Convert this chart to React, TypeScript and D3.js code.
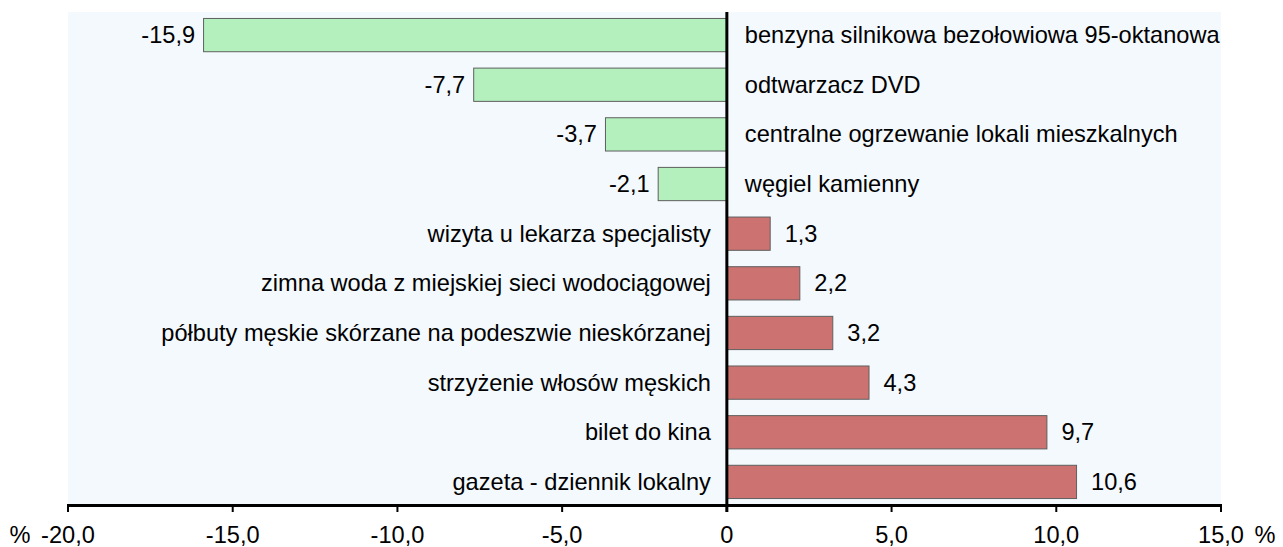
import React from "react";
import * as d3 from "d3";

const categories = [
  "benzyna silnikowa bezołowiowa 95-oktanowa",
  "odtwarzacz DVD",
  "centralne ogrzewanie lokali mieszkalnych",
  "węgiel kamienny",
  "wizyta u lekarza specjalisty",
  "zimna woda z miejskiej sieci wodociągowej",
  "półbuty męskie skórzane na podeszwie nieskórzanej",
  "strzyżenie włosów męskich",
  "bilet do kina",
  "gazeta - dziennik lokalny",
];
const values = [-15.9, -7.7, -3.7, -2.1, 1.3, 2.2, 3.2, 4.3, 9.7, 10.6];
const xTicks = [-20, -15, -10, -5, 0, 5, 10, 15];

const W = 1283;
const H = 547;
const FONT = "'Liberation Sans', Arial, sans-serif";
const FS = 23.6;

const fmt = (v: number) => (v === 0 ? "0" : d3.format(".1f")(v).replace(".", ",").replace("−", "-"));

export default function App() {
  const x = d3.scaleLinear().domain([-20, 15]).range([68, 1221]);
  const y = d3
    .scaleBand<string>()
    .domain(categories)
    .range([12, 504])
    .paddingInner(0.33)
    .paddingOuter(0.12);
  const x0 = x(0);
  const axisY = 505.5;

  return (
    <svg
      width={W}
      height={H}
      style={{ position: "absolute", left: 0, top: 0, background: "#fff" }}
      fontFamily={FONT}
      fontSize={FS}
    >
      <rect x={x(-20)} y={12} width={x(15) - x(-20)} height={492} fill="#f3f9fd" />
      {categories.map((c, i) => {
        const v = values[i];
        const by = y(c)!;
        const bh = y.bandwidth();
        const cy = by + bh / 2;
        const neg = v < 0;
        const bx = neg ? x(v) : x0;
        const bw = Math.abs(x(v) - x0);
        return (
          <g key={c}>
            <rect
              x={bx + 0.5}
              y={by + 0.5}
              width={bw}
              height={bh}
              fill={neg ? "#b3f0be" : "#cc7371"}
              stroke="#5f5f5f"
              strokeWidth={1}
            />
            <text
              x={neg ? x(v) - 8 : x(v) + 15}
              y={cy}
              dy="0.36em"
              textAnchor={neg ? "end" : "start"}
              fill="#000"
            >
              {fmt(v)}
            </text>
            <text
              x={neg ? x0 + 18 : x0 - 16}
              y={cy}
              dy="0.36em"
              textAnchor={neg ? "start" : "end"}
              fill="#000"
            >
              {c}
            </text>
          </g>
        );
      })}
      <line x1={x0} x2={x0} y1={12} y2={512} stroke="#000" strokeWidth={3} />
      <line x1={x(-20) - 1} x2={x(15) + 1} y1={axisY} y2={axisY} stroke="#000" strokeWidth={3} />
      {xTicks.map((t) => (
        <g key={t}>
          <line x1={x(t)} x2={x(t)} y1={axisY} y2={512} stroke="#000" strokeWidth={2} />
          <text x={x(t)} y={535} dy="0.36em" textAnchor="middle" fill="#000">
            {fmt(t)}
          </text>
        </g>
      ))}
      <text x={20} y={535} dy="0.36em" textAnchor="middle">%</text>
      <text x={1265} y={535} dy="0.36em" textAnchor="middle">%</text>
    </svg>
  );
}
